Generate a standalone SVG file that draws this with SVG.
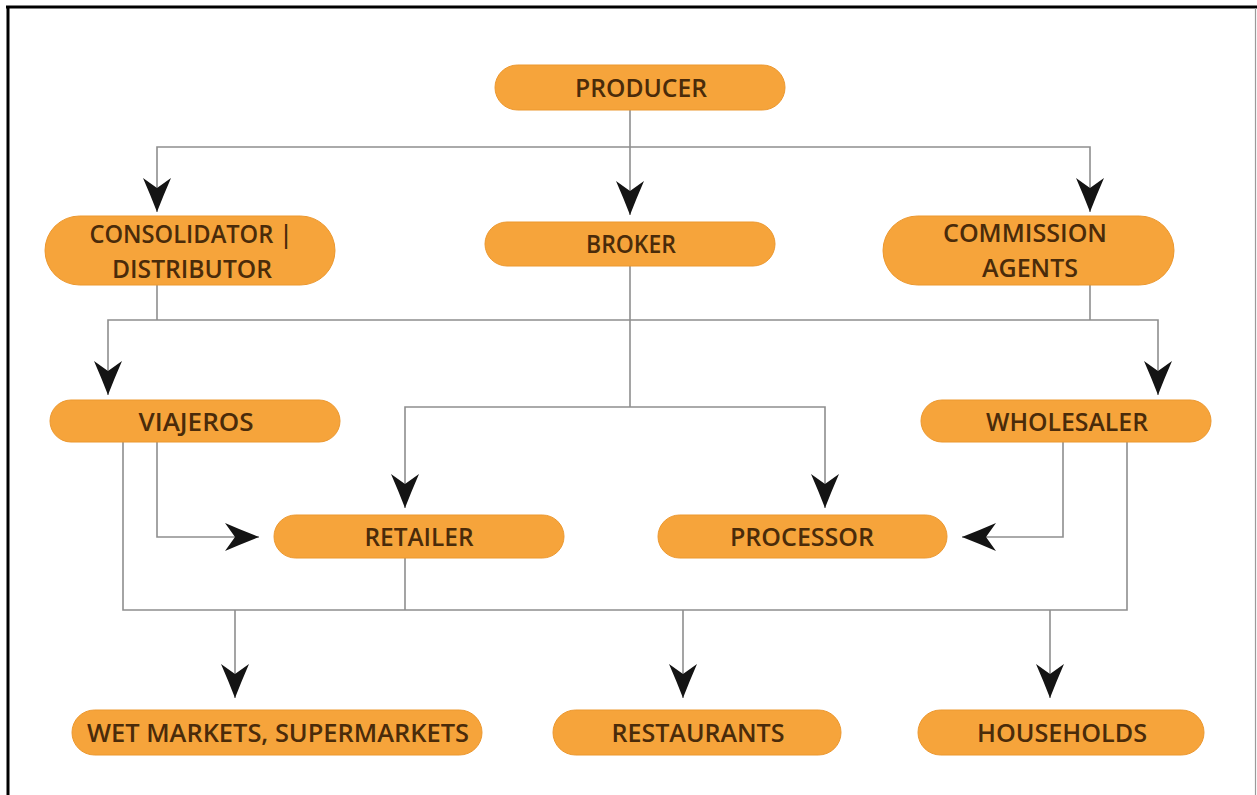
<svg xmlns="http://www.w3.org/2000/svg" width="1257" height="795" viewBox="0 0 1257 795">
  <style>
    .pill { fill: #F6A43B; stroke: #EC982F; stroke-width: 1; }
    .lbl { font-family: "Open Sans", "Liberation Sans", sans-serif; font-size: 26px; font-weight: 600; fill: #4A2B0A; text-anchor: middle; }
    .wire { fill: none; stroke: #8E8E8E; stroke-width: 1.6; }
    .arr { fill: none; stroke: #8E8E8E; stroke-width: 1.6; marker-end: url(#head); }
  </style>
  <defs>
    <marker id="head" markerUnits="userSpaceOnUse" markerWidth="36" markerHeight="32" refX="34" refY="15" orient="auto">
      <path d="M34,15 Q16,8 0,1 L10,15 L0,29 Q16,22 34,15 Z" fill="#141414"/>
    </marker>
  </defs>

  <rect width="1257" height="795" fill="#FFFFFF"/>

  <!-- outer frame -->
  <g id="frame">
    <line x1="6" y1="7" x2="1257" y2="7" stroke="#000" stroke-width="3"/>
    <line x1="8" y1="6" x2="8" y2="795" stroke="#000" stroke-width="3"/>
    <line x1="1255.5" y1="8" x2="1255.5" y2="795" stroke="#9A9A9A" stroke-width="1.2"/>
  </g>

  <!-- connectors -->
  <g id="connectors">
    <path class="wire" d="M630,110 V147"/>
    <path class="arr" d="M630,147 H157 V212"/>
    <path class="arr" d="M630,147 V215"/>
    <path class="arr" d="M630,147 H1090 V212"/>

    <path class="wire" d="M157,285 V320"/>
    <path class="wire" d="M1090,285 V320"/>
    <path class="wire" d="M157,320 H1090"/>
    <path class="arr" d="M157,320 H108 V395"/>
    <path class="arr" d="M1090,320 H1158 V395"/>

    <path class="wire" d="M630,266 V407"/>
    <path class="arr" d="M630,407 H405 V508"/>
    <path class="arr" d="M630,407 H825 V508"/>

    <path class="arr" d="M157,442 V537 H259"/>
    <path class="arr" d="M1063,442 V537 H962"/>

    <path class="wire" d="M123,442 V610 H1127 V442"/>
    <path class="wire" d="M405,558 V610"/>
    <path class="arr" d="M235,610 V698"/>
    <path class="arr" d="M683,610 V698"/>
    <path class="arr" d="M1050,610 V698"/>
  </g>

  <g id="producer">
    <rect class="pill" x="495" y="65" width="290" height="45" rx="22.5"/>
    <text class="lbl" x="641" y="97" textLength="132" lengthAdjust="spacingAndGlyphs">PRODUCER</text>
  </g>

  <g id="consolidator">
    <rect class="pill" x="45" y="216" width="290" height="69" rx="34.5"/>
    <text class="lbl" x="191" y="243" textLength="203" lengthAdjust="spacingAndGlyphs">CONSOLIDATOR |</text>
    <text class="lbl" x="192" y="278" textLength="160" lengthAdjust="spacingAndGlyphs">DISTRIBUTOR</text>
  </g>

  <g id="broker">
    <rect class="pill" x="485" y="222" width="290" height="44" rx="22"/>
    <text class="lbl" x="631" y="253" textLength="90" lengthAdjust="spacingAndGlyphs">BROKER</text>
  </g>

  <g id="commission-agents">
    <rect class="pill" x="883" y="216" width="291" height="69" rx="34.5"/>
    <text class="lbl" x="1025" y="242" textLength="164" lengthAdjust="spacingAndGlyphs">COMMISSION</text>
    <text class="lbl" x="1030" y="277" textLength="96" lengthAdjust="spacingAndGlyphs">AGENTS</text>
  </g>

  <g id="viajeros">
    <rect class="pill" x="50" y="400" width="290" height="42" rx="21"/>
    <text class="lbl" x="196" y="431" textLength="115" lengthAdjust="spacingAndGlyphs">VIAJEROS</text>
  </g>

  <g id="wholesaler">
    <rect class="pill" x="921" y="400" width="290" height="42" rx="21"/>
    <text class="lbl" x="1067" y="431" textLength="162" lengthAdjust="spacingAndGlyphs">WHOLESALER</text>
  </g>

  <g id="retailer">
    <rect class="pill" x="274" y="515" width="290" height="43" rx="21.5"/>
    <text class="lbl" x="419" y="546" textLength="109" lengthAdjust="spacingAndGlyphs">RETAILER</text>
  </g>

  <g id="processor">
    <rect class="pill" x="658" y="515" width="289" height="43" rx="21.5"/>
    <text class="lbl" x="802" y="546" textLength="144" lengthAdjust="spacingAndGlyphs">PROCESSOR</text>
  </g>

  <g id="wet-markets">
    <rect class="pill" x="72" y="710" width="410" height="45" rx="22.5"/>
    <text class="lbl" x="278" y="742" textLength="382" lengthAdjust="spacingAndGlyphs">WET MARKETS, SUPERMARKETS</text>
  </g>

  <g id="restaurants">
    <rect class="pill" x="553" y="710" width="288" height="45" rx="22.5"/>
    <text class="lbl" x="698" y="742" textLength="173" lengthAdjust="spacingAndGlyphs">RESTAURANTS</text>
  </g>

  <g id="households">
    <rect class="pill" x="918" y="710" width="286" height="45" rx="22.5"/>
    <text class="lbl" x="1062" y="742" textLength="170" lengthAdjust="spacingAndGlyphs">HOUSEHOLDS</text>
  </g>
</svg>
